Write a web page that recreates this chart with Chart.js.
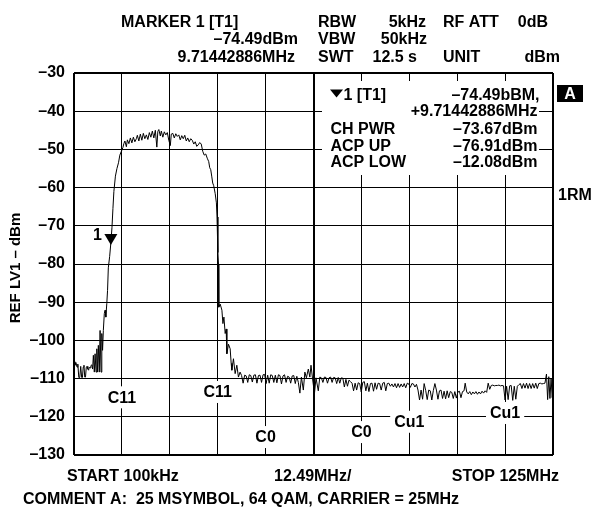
<!DOCTYPE html>
<html>
<head>
<meta charset="utf-8">
<script src="https://cdn.jsdelivr.net/npm/chart.js@4.4.1/dist/chart.umd.min.js"></script>
<style>
  html, body { margin: 0; padding: 0; background: #fff; }
</style>
</head>
<body>
<canvas id="spectrum" width="591" height="508"></canvas>
<script>
// SPECTRUM - 25 MSYMBOL 64 QAM, ACP MEASUREMENT

// sweep points (MHz / dBm)
const freqMHz = [
  0.1, 0.35, 0.6, 0.9, 1.1, 1.35, 1.6, 1.85, 2.1, 2.3, 2.5, 2.7, 2.9, 3.1, 3.3, 3.5, 3.7, 3.9, 4.1, 4.3,
  4.5, 4.75, 4.95, 5.15, 5.4, 5.6, 5.85, 6.05, 6.25, 6.45, 6.7, 6.9, 7.15, 7.35, 7.55, 7.75, 8.0, 8.2, 8.4, 8.65,
  8.85, 9.05, 9.4, 9.71, 10.0, 10.25, 10.5, 10.9, 11.3, 11.7, 12.05, 12.45, 12.85, 13.1,
  13.37, 13.76, 14.02, 14.41, 14.8, 15.19, 15.58, 15.97, 16.36, 16.62, 17.01, 17.4, 17.79, 18.18, 18.57, 18.97,
  19.36, 19.75, 20.14, 20.53, 20.92, 21.31, 21.7, 21.96, 22.22, 22.61, 22.87, 23.26, 23.65, 24.04, 24.43, 24.82,
  25.21, 25.47, 25.86, 26.25, 26.64, 27.03, 27.42, 27.81, 28.2, 28.59, 28.98, 29.37, 29.76, 30.15, 30.54, 30.93,
  31.33, 31.72, 32.11, 32.5, 32.89, 33.28, 33.67, 34.06, 34.45, 34.84, 35.23, 35.49, 35.75, 36.01, 36.27, 36.53,
  36.92, 37.23, 37.39, 37.62, 37.78, 37.86, 38.22, 38.67, 38.93, 39.19, 39.52, 39.78, 39.96, 40.38, 40.82, 41.08,
  41.26, 41.68, 42.12, 42.56, 42.98, 43.4,
  43.8, 44.2, 44.6, 45.0, 45.4, 45.8, 46.2, 46.6, 47.0, 47.4, 47.8, 48.2, 48.6, 49.0, 49.4, 49.8, 50.2, 50.6,
  51.0, 51.4, 51.8, 52.2, 52.6, 53.0, 53.4, 53.8, 54.2, 54.6, 55.0, 55.4, 55.8, 56.2, 56.6, 57.0, 57.4, 57.8,
  58.2, 58.6, 59.0, 59.4, 59.9, 60.3, 60.7, 61.2, 61.6, 61.9, 62.3, 62.8, 63.2, 63.8, 64.2, 64.6, 65.0, 65.4,
  65.8, 66.2, 66.6, 67.0, 67.4, 67.8, 68.2, 68.6, 69.0, 69.4, 69.8, 70.2, 70.6, 71.0, 71.4, 71.8, 72.2, 72.6,
  73.0, 73.4, 73.8, 74.2, 74.6, 75.0, 75.4, 75.8, 76.2, 76.6, 77.0, 77.4, 77.8, 78.2, 78.6, 79.0, 79.4, 79.8,
  80.2, 80.6, 81.0, 81.4, 81.8, 82.2, 82.6, 83.0, 83.4, 83.8, 84.2, 84.6, 85.0, 85.4, 85.8, 86.2, 86.6, 87.0,
  87.4, 87.8, 88.2, 88.6, 89.0, 89.4, 89.8, 90.2, 90.6, 91.0, 91.4, 91.8, 92.2, 92.6, 93.0, 93.4, 93.8, 94.2,
  94.6, 95.0, 95.4, 95.8, 96.2, 96.6, 97.0, 97.4, 97.8, 98.2, 98.6, 99.0, 99.4, 99.8, 100.2, 100.6, 101.0, 101.4,
  101.8, 102.1, 102.5, 102.9, 103.3, 103.7, 104.1, 104.5, 104.9, 105.3, 105.7, 106.1, 106.5, 106.9, 107.3, 107.7,
  108.1, 108.5, 108.9, 109.3, 109.7, 110.1, 110.5, 110.9, 111.3, 111.7, 112.1, 112.5, 112.9, 113.3, 113.7, 114.1,
  114.5, 114.9, 115.3, 115.7, 116.1, 116.5, 116.9, 117.3, 117.7, 118.1, 118.5, 118.9, 119.3, 119.7, 120.1, 120.5,
  120.9, 121.3, 121.7, 122.1, 122.5, 122.9, 123.3, 123.6, 123.9, 124.2, 124.5, 124.8, 125.0
];

const levelDbm = [
  -105.6, -106.5, -105.8, -107, -106.2, -109.7, -109.7, -106.8, -109.7, -109.7, -107, -106.5, -109.6, -109.6, -107, -106.8, -107.5, -107.8, -107, -107.2,
  -106.6, -106.4, -107.5, -103.9, -108.3, -103.5, -108.3, -102.2, -108.3, -101.3, -108.3, -97.4, -108.3, -98.2, -102.6, -97.4, -93, -92.1, -93.9, -90.4,
  -86.9, -81, -78, -74.49, -70.5, -65.5, -61, -57, -55, -53.5, -51.5, -50.5, -49.5, -48.5,
  -47.8, -49.3, -47.5, -48.5, -47, -48.3, -46.8, -48, -47.2, -46.3, -47.8, -46, -47.6, -45.8, -47.2, -46.2,
  -47.4, -45.6, -46.8, -45.2, -47, -45, -49.4, -45.3, -44.8, -46.5, -45.2, -46.8, -45.4, -46.2, -45.6, -47.6,
  -49, -46, -45.8, -47, -45.9, -46.6, -46.2, -47.5, -46.4, -47.2, -46.3, -47.8, -47, -48, -47.2, -47.6,
  -48.6, -48, -49.2, -48.8, -48.2, -48.6, -50.5, -51.5, -51.2, -52.3, -53.2, -54.8, -55.3, -57, -58.8, -59.5,
  -61.6, -64, -67.7, -77, -80, -91.3, -90.5, -92.1, -95.6, -93.9, -98.2, -97, -103.5, -101, -102.2, -106,
  -107.8, -104.8, -108.7, -106.5, -109.6, -108.3,
  -109.2, -111.2, -109.1, -109.3, -111.0, -109.0, -109.2, -110.9, -109.1, -109.0, -111.2, -109.2, -109.1, -111.0, -109.0, -108.9, -111.3, -109.1,
  -111.2, -109.0, -109.2, -111.0, -109.1, -111.1, -109.0, -109.2, -111.4, -109.3, -109.0, -111.0, -109.4, -109.6, -111.2, -109.3, -109.2, -111.3,
  -109.4, -111.0, -113.8, -109.6, -113.0, -108.3, -109.8, -107.5, -109.6, -106.5, -110.0, -113.9, -109.8, -113.2, -109.6, -109.8, -111.0, -109.6,
  -109.7, -111.2, -109.8, -109.6, -111.0, -109.7, -109.8, -111.3, -109.7, -111.2, -109.8, -109.9, -112.2, -110.2, -112.0, -110.4, -110.8, -111.2,
  -113.2, -111.2, -113.0, -111.1, -111.3, -113.5, -111.0, -110.8, -113.2, -111.2, -113.4, -111.3, -111.2, -113.3, -111.1, -112.8, -111.2, -111.3,
  -113.0, -111.2, -111.0, -113.2, -111.3, -111.2, -112.0, -111.4, -112.2, -111.3, -112.4, -111.3, -112.3, -111.4, -112.2, -111.3, -112.4, -111.2,
  -111.4, -112.3, -111.3, -111.4, -112.2, -111.5, -113.0, -115.6, -113.0, -115.4, -111.3, -113.1, -115.5, -113.0, -113.2, -115.6, -113.1, -111.3,
  -113.0, -115.4, -113.2, -113.0, -115.2, -113.3, -115.3, -113.2, -115.0, -113.4, -113.6, -115.2, -113.4, -115.1, -113.5, -113.3, -115.0, -113.4,
  -113.2, -111.2, -113.5, -114.0, -113.4, -114.2, -113.5, -114.0, -113.4, -114.1, -113.5, -114.0, -113.3, -113.8, -113.2, -113.6,
  -111.2, -112.8, -111.8, -111.7, -111.9, -111.8, -111.8, -111.7, -111.9, -111.8, -111.9, -115.6, -112.0, -115.5, -111.9, -111.8,
  -115.7, -112.0, -115.4, -112.0, -111.6, -111.3, -112.6, -111.3, -112.5, -111.2, -112.6, -111.3, -112.6, -111.3, -112.5, -111.2,
  -112.6, -111.3, -111.2, -111.4, -111.3, -111.2, -108.8, -115.5, -109.5, -115.2, -110.0, -115.0, -112.0
];

// 10 divisions of 12.49 MHz, 100 kHz .. 125 MHz
const gridFreqs = [0.1, 12.59, 25.08, 37.57, 50.06, 62.55, 75.04, 87.53, 100.02, 112.51, 125];

// channel markers drawn inside the grid
const chanLabels = ["C11", "C11", "C0", "C0", "Cu1", "Cu1"];
const chanFreq = [12.59, 37.57, 50.06, 75.04, 87.53, 112.51];
const chanLevel = [-114.9, -113.5, -125.3, -124.0, -121.3, -119.0];

const markerFreq = 9.71442886;
const markerLevel = -74.49;

const FONT = '"Liberation Sans", Arial, sans-serif';

const points = freqMHz.map((f, i) => ({ x: f, y: levelDbm[i] }));

function txt(ctx, s, x, y, align, size) {
    ctx.font = 'bold ' + (size || 16) + 'px ' + FONT;
    ctx.textAlign = align || 'left';
    ctx.textBaseline = 'alphabetic';
    ctx.fillText(s, x, y);
}

const analyzerText = {
    id: 'analyzerText',
    beforeDatasetsDraw(chart) {
        const ctx = chart.ctx;
        const xs = chart.scales.x, ys = chart.scales.y;
        ctx.save();
        // blank the grid behind the marker readout
        ctx.fillStyle = '#fff';
        ctx.fillRect(322, 81, 217, 94);
        // channel labels
        ctx.font = 'bold 16px ' + FONT;
        chanLabels.forEach((s, i) => {
            const cx = xs.getPixelForValue(chanFreq[i]);
            const cy = ys.getPixelForValue(chanLevel[i]);
            const w = ctx.measureText(s).width;
            ctx.fillStyle = '#fff';
            ctx.fillRect(cx - w / 2 - 4, cy - 11, w + 8, 22);
            ctx.fillStyle = '#000';
            ctx.textAlign = 'center';
            ctx.textBaseline = 'middle';
            ctx.fillText(s, cx, cy + 1);
        });
        ctx.restore();
    },
    afterDraw(chart) {
        const ctx = chart.ctx;
        const xs = chart.scales.x, ys = chart.scales.y;
        ctx.save();
        ctx.fillStyle = '#000';

        // header
        txt(ctx, 'MARKER 1 [T1]', 121, 27);
        txt(ctx, '\u201374.49dBm', 298, 44, 'right');
        txt(ctx, '9.71442886MHz', 295, 62, 'right');
        txt(ctx, 'RBW', 318, 27);
        txt(ctx, '5kHz', 426, 27, 'right');
        txt(ctx, 'RF ATT', 443, 27);
        txt(ctx, '0dB', 548, 27, 'right');
        txt(ctx, 'VBW', 318, 44);
        txt(ctx, '50kHz', 427, 44, 'right');
        txt(ctx, 'SWT', 318, 62);
        txt(ctx, '12.5 s', 417, 62, 'right');
        txt(ctx, 'UNIT', 443, 62);
        txt(ctx, 'dBm', 560, 62, 'right');

        // marker readout box
        ctx.beginPath();
        ctx.moveTo(330, 89.5);
        ctx.lineTo(343, 89.5);
        ctx.lineTo(336.5, 97.5);
        ctx.closePath();
        ctx.fill();
        txt(ctx, '1 [T1]', 343.5, 99.5);
        txt(ctx, '\u201374.49bBM,', 539.5, 99.5, 'right');
        txt(ctx, '+9.71442886MHz', 537.5, 115.5, 'right');
        txt(ctx, 'CH PWR', 330.5, 133.5);
        txt(ctx, '\u201373.67dBm', 537.5, 133.5, 'right');
        txt(ctx, 'ACP UP', 330.5, 150.5);
        txt(ctx, '\u201376.91dBm', 537.5, 150.5, 'right');
        txt(ctx, 'ACP LOW', 330.5, 167);
        txt(ctx, '\u201312.08dBm', 537.5, 167, 'right');

        // trace marker 1
        const mx = xs.getPixelForValue(markerFreq);
        const my = ys.getPixelForValue(markerLevel);
        ctx.beginPath();
        ctx.moveTo(mx - 6.5, my - 9);
        ctx.lineTo(mx + 6.5, my - 9);
        ctx.lineTo(mx, my + 2);
        ctx.closePath();
        ctx.fill();
        txt(ctx, '1', 102, my - 3, 'right');

        // side annotations
        ctx.fillRect(557, 85, 26, 17);
        ctx.fillStyle = '#fff';
        txt(ctx, 'A', 570, 99, 'center');
        ctx.fillStyle = '#000';
        txt(ctx, '1RM', 558, 199.5);

        // bottom
        txt(ctx, 'START 100kHz', 67, 481);
        txt(ctx, '12.49MHz/', 274, 481);
        txt(ctx, 'STOP 125MHz', 559, 481, 'right');
        txt(ctx, 'COMMENT A:  25 MSYMBOL, 64 QAM, CARRIER = 25MHz', 23, 504);

        // y title
        ctx.translate(20, 268);
        ctx.rotate(-Math.PI / 2);
        txt(ctx, 'REF LV1 \u2013 dBm', 0, 0, 'center', 15);
        ctx.restore();
    }
};

const spectrumChart = new Chart(document.getElementById('spectrum'), {
    type: 'scatter',
    data: {
        datasets: [{
            data: points,
            showLine: true,
            borderColor: '#000',
            borderWidth: 1,
            pointRadius: 0,
            tension: 0
        }]
    },
    options: {
        responsive: false,
        animation: false,
        events: [],
        layout: { padding: { left: 0, top: 73, right: 38, bottom: 53 } },
        plugins: { legend: { display: false }, tooltip: { enabled: false } },
        scales: {
            x: {
                type: 'linear',
                min: 0.1,
                max: 125,
                afterBuildTicks: s => { s.ticks = gridFreqs.map(v => ({ value: v })); },
                afterFit: s => { s.height = 0; },
                ticks: { display: false },
                grid: {
                    color: '#000',
                    drawTicks: false,
                    lineWidth: c => (c.index === 0 || c.index === 5 || c.index === 10) ? 2 : 1
                },
                border: { display: false }
            },
            y: {
                min: -130,
                max: -30,
                afterFit: s => { s.width = 74; },
                ticks: {
                    stepSize: 10,
                    padding: 9,
                    color: '#000',
                    font: { family: FONT, size: 16, weight: 'bold' },
                    callback: v => String(v).replace('-', '\u2013')
                },
                grid: {
                    color: '#000',
                    drawTicks: false,
                    lineWidth: c => (c.index === 0 || c.index === 10) ? 2 : 1
                },
                border: { display: false }
            }
        }
    },
    plugins: [analyzerText]
});
</script>
</body>
</html>
